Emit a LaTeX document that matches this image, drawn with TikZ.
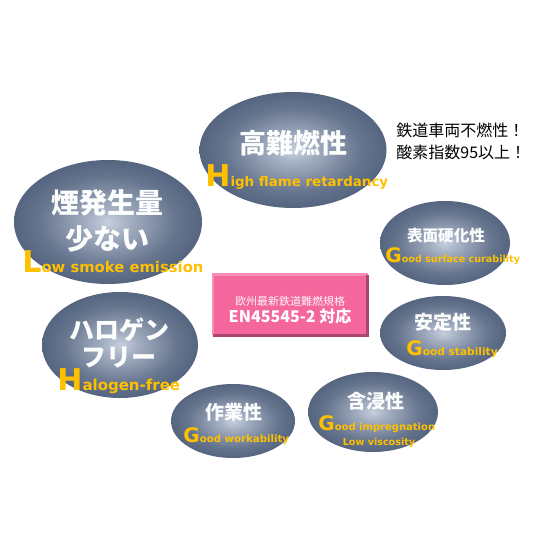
\documentclass[tikz,border=0pt]{standalone}
\usepackage{fontspec}
\usepackage{xcolor}
\usepackage{tikz}
\usetikzlibrary{shapes.geometric}
\newfontfamily\jpfont{Noto Sans CJK JP}
\newfontfamily\enfont{DejaVu Sans}
\definecolor{OrbIn}{HTML}{C6CFDE}
\definecolor{OrbMid}{HTML}{A2ADC0}
\definecolor{OrbDeep}{HTML}{67768F}
\definecolor{OrbOut}{HTML}{465672}
\definecolor{Gold}{HTML}{FFC000}
\definecolor{Rose}{HTML}{F4679D}
\definecolor{RoseDark}{HTML}{A9476F}
\definecolor{RoseLight}{HTML}{F98DB6}
\pgfdeclareradialshading{orb}{\pgfpoint{0bp}{0bp}}{color(0bp)=(OrbIn); color(6bp)=(OrbMid); color(18bp)=(OrbDeep); color(31bp)=(OrbOut); color(50bp)=(OrbOut)}
\newcommand{\Ini}[2]{{\fontsize{#1}{#1}\selectfont #2}}

\begin{document}
\begin{tikzpicture}[x=0.5pt,y=-0.5pt,
  orb/.style={ellipse,shading=orb,inner sep=0pt},
  jp/.style={font=\jpfont\bfseries,text=white!95!OrbIn,inner sep=0pt},
  en/.style={font=\enfont\bfseries,text=Gold,inner sep=0pt,anchor=base west}]
\useasboundingbox (0,0) rectangle (560,560);
% ellipses
\node[orb,minimum width=93.5pt,minimum height=58pt] (flame) at (293,150) {};
\node[orb,minimum width=94pt,minimum height=62pt] (smoke) at (108,222) {};
\node[orb,minimum width=65pt,minimum height=42pt] (surface) at (445,243) {};
\node[orb,minimum width=63pt,minimum height=37pt] (stab) at (443,333) {};
\node[orb,minimum width=78pt,minimum height=53pt] (halogen) at (120,345) {};
\node[orb,minimum width=62pt,minimum height=37pt] (work) at (233,421) {};
\node[orb,minimum width=65pt,minimum height=40pt] (impreg) at (373,412) {};
% center box
\node[fill=Rose,minimum width=77pt,minimum height=30pt,inner sep=0pt] (std) at (290.5,305) {};
\draw[RoseLight,line width=1.2pt] (std.south west) -- (std.north west) -- (std.north east);
\draw[RoseDark,line width=1.5pt] (std.north east) -- (std.south east) -- (std.south west);
\node[font=\jpfont\fontsize{5.5}{6}\selectfont,text=white!92!Rose,inner sep=0pt] (stdA) at (290,301) {欧州最新鉄道難燃規格};
\node[font=\jpfont\bfseries\fontsize{8}{9}\selectfont,text=white,inner sep=0pt] (stdB) at (290,316) {EN45545-2 対応};
% japanese titles
\node[jp,font=\jpfont\bfseries\fontsize{13.5}{14}\selectfont] (flameJ) at (293,143) {高難燃性};
\node[jp,font=\jpfont\bfseries\fontsize{14}{15}\selectfont] (smokeJa) at (107,203) {煙発生量};
\node[jp,font=\jpfont\bfseries\fontsize{14}{15}\selectfont] (smokeJb) at (107,239) {少ない};
\node[jp,font=\jpfont\bfseries\fontsize{7.8}{8}\selectfont] (surfaceJ) at (446,236) {表面硬化性};
\node[jp,font=\jpfont\bfseries\fontsize{9.5}{10}\selectfont] (stabJ) at (443,322) {安定性};
\node[jp,font=\jpfont\bfseries\fontsize{12.5}{13}\selectfont] (halogenJa) at (119,330) {ハロゲン};
\node[jp,font=\jpfont\bfseries\fontsize{12.5}{13}\selectfont] (halogenJb) at (119,357) {フリー};
\node[jp,font=\jpfont\bfseries\fontsize{9.5}{10}\selectfont] (workJ) at (234,412) {作業性};
\node[jp,font=\jpfont\bfseries\fontsize{9.5}{10}\selectfont] (impregJ) at (376,401) {含浸性};
% english labels
\node[en,font=\enfont\bfseries\fontsize{6.7}{7}\selectfont] (flameE) at (205,187) {\Ini{15}{H}igh flame retardancy};
\node[en,font=\enfont\bfseries\fontsize{7.4}{8}\selectfont] (smokeE) at (22,272) {\Ini{15}{L}ow smoke emission};
\node[en,font=\enfont\bfseries\fontsize{4.8}{5}\selectfont] (surfaceE) at (385,263) {\Ini{10}{G}ood surface curability};
\node[en,font=\enfont\bfseries\fontsize{5.3}{6}\selectfont] (stabE) at (406,355) {\Ini{10}{G}ood stability};
\node[en,font=\enfont\bfseries\fontsize{7.5}{8}\selectfont] (halogenE) at (57,390) {\Ini{15}{H}alogen-free};
\node[en,font=\enfont\bfseries\fontsize{5.1}{6}\selectfont] (workE) at (183,442) {\Ini{10}{G}ood workability};
\node[en,font=\enfont\bfseries\fontsize{5}{6}\selectfont] (impregE) at (318,430) {\Ini{10}{G}ood impregnation};
\node[en,font=\enfont\bfseries\fontsize{4.8}{5}\selectfont,anchor=base] (viscE) at (379,445) {Low viscosity};
% side note
\node[font=\jpfont\fontsize{8}{11}\selectfont,align=left,anchor=west,inner sep=0pt] (note) at (396,141) {鉄道車両不燃性！\\酸素指数95以上！};
\end{tikzpicture}
\end{document}
